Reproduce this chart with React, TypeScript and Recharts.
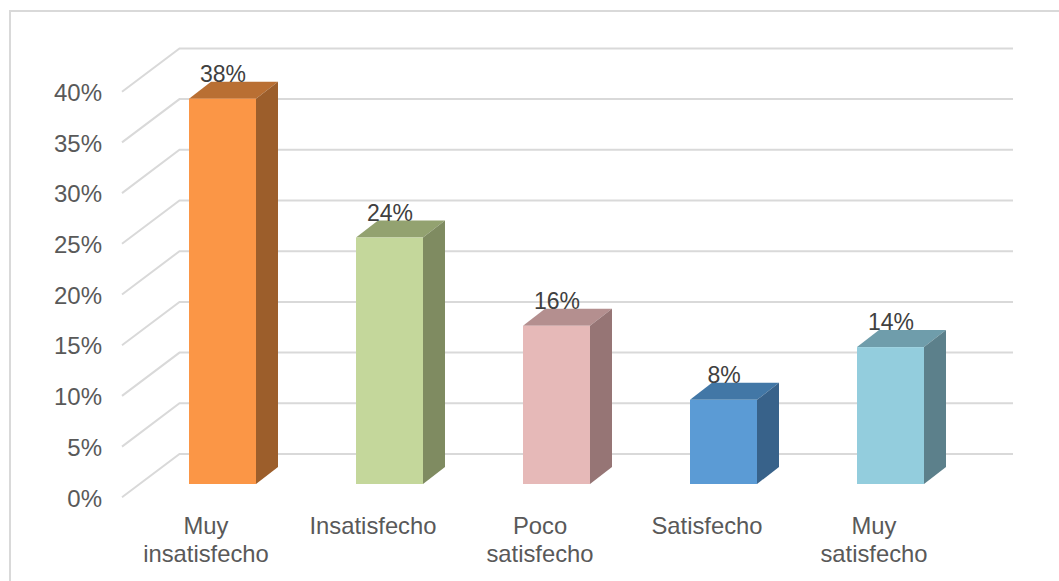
import { Bar, BarChart, CartesianGrid, LabelList, XAxis, YAxis } from 'recharts'

const categories = [
    ['Muy', 'insatisfecho'],
    ['Insatisfecho'],
    ['Poco', 'satisfecho'],
    ['Satisfecho'],
    ['Muy', 'satisfecho'],
]
// bar heights, the printed labels are rounded
const barValues = [38, 24.3, 15.6, 8.3, 13.5]
const labelValues = ['38%', '24%', '16%', '8%', '14%']
const barColors = ['#fb9646', '#c4d79b', '#e6b9b8', '#5b9bd5', '#93cddd']
const topColors = ['#b96f33', '#93a270', '#b48f8f', '#4277a6', '#6f9dab']
const sideColors = ['#9c5e2b', '#7f8b61', '#967575', '#38628a', '#5c808b']
const yTicks = [0, 5, 10, 15, 20, 25, 30, 35, 40]

const data = categories.map((name, i) => ({
    name: name.join(' '),
    value: barValues[i],
    label: labelValues[i],
    idx: i,
}))

const DEPTH_X = 22
const DEPTH_Y = 17

function gridLine({ y1 }: any) {
    return (
        <polyline
            key={y1}
            points={`${122},${y1 + 13.3} ${179.5},${y1 - 30} ${1013},${y1 - 30}`}
            fill="none"
            stroke="#d9d9d9"
            strokeWidth={2}
        />
    )
}

function YTick({ y, payload }: any) {
    return (
        <text
            x={102}
            y={y + 22.5}
            textAnchor="end"
            fontSize={24}
            fontFamily="Liberation Sans"
            fill="#595959"
        >
            {payload.value}%
        </text>
    )
}

function XTick({ x, y, index }: any) {
    const lines = categories[index]
    return (
        <text
            textAnchor="middle"
            fontSize={23.8}
            fontFamily="Liberation Sans"
            fill="#595959"
        >
            {lines.map((l, i) => (
                <tspan key={l} x={x - 16.5} y={y + 41.5 + i * 28}>
                    {l}
                </tspan>
            ))}
        </text>
    )
}

function Box3D({ x, y, width, height, idx }: any) {
    const r = x + width
    const b = y + height
    return (
        <g>
            <polygon
                points={`${x},${y} ${x + DEPTH_X},${y - DEPTH_Y} ${r + DEPTH_X},${y - DEPTH_Y} ${r},${y}`}
                fill={topColors[idx]}
            />
            <polygon
                points={`${r},${y} ${r + DEPTH_X},${y - DEPTH_Y} ${r + DEPTH_X},${b - DEPTH_Y} ${r},${b}`}
                fill={sideColors[idx]}
            />
            <rect x={x} y={y} width={width} height={height} fill={barColors[idx]} />
        </g>
    )
}

function TopLabel({ x, y, width, value }: any) {
    return (
        <text
            x={x + width / 2 + 0.5}
            y={y - 17}
            textAnchor="middle"
            fontSize={23}
            fontFamily="Liberation Sans"
            fill="#404040"
        >
            {value}
        </text>
    )
}

export default function App() {
    return (
        <div
            style={{
                position: 'absolute',
                left: 0,
                top: 0,
                width: 1059,
                height: 581,
                overflow: 'hidden',
                background: '#fff',
            }}
        >
            <div
                style={{
                    position: 'absolute',
                    left: 9,
                    top: 10,
                    width: 1070,
                    height: 600,
                    border: '2px solid #d9d9d9',
                    boxSizing: 'border-box',
                }}
            />
            <BarChart
                width={1059}
                height={581}
                data={data}
                margin={{ left: 0, right: 0, top: 78.4, bottom: 0 }}
                style={{ position: 'absolute', left: 0, top: 0 }}
            >
                <CartesianGrid vertical={false} horizontal={gridLine} />
                <XAxis
                    dataKey="name"
                    axisLine={false}
                    tickLine={false}
                    interval={0}
                    height={97}
                    tick={<XTick />}
                    padding={{ left: 138, right: 85 }}
                />
                <YAxis
                    type="number"
                    domain={[0, 40]}
                    ticks={yTicks}
                    axisLine={false}
                    tickLine={false}
                    width={1}
                    tick={<YTick />}
                />
                <Bar
                    dataKey="value"
                    barSize={67}
                    isAnimationActive={false}
                    shape={<Box3D />}
                >
                    <LabelList dataKey="label" content={<TopLabel />} />
                </Bar>
            </BarChart>
        </div>
    )
}
